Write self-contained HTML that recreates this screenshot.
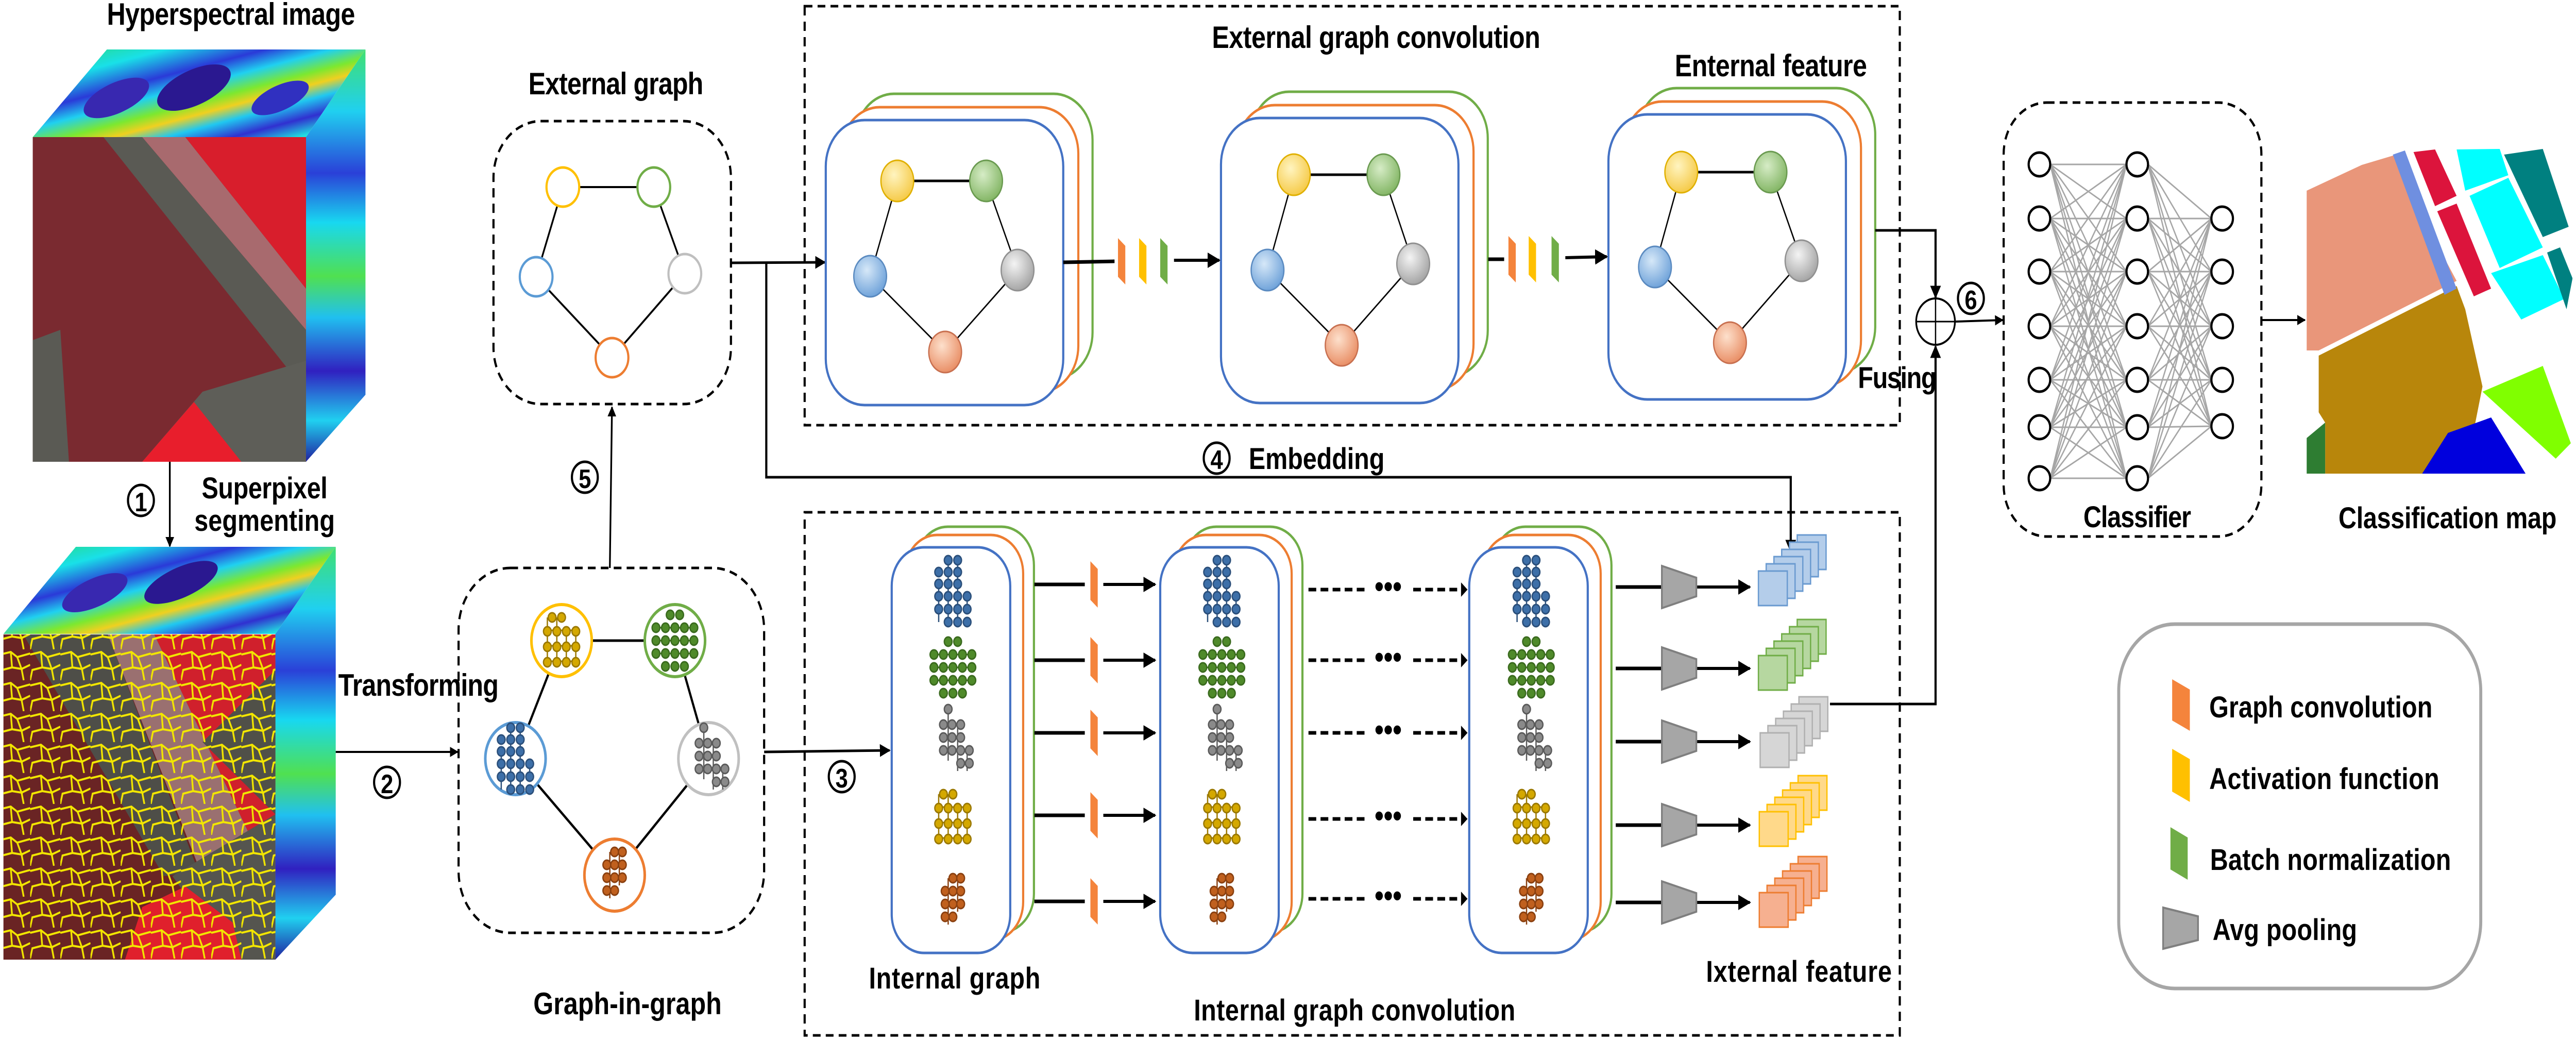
<!DOCTYPE html>
<html><head><meta charset="utf-8"><style>
html,body{margin:0;padding:0;background:#fff;overflow:hidden;width:100vw;height:100vh}
svg{display:block;position:absolute;left:0;top:0;width:100vw;height:100vh}
text{font-family:"Liberation Sans",Arial,sans-serif;font-weight:bold;fill:#000}
</style></head><body>
<svg xmlns="http://www.w3.org/2000/svg" xmlns:xlink="http://www.w3.org/1999/xlink" viewBox="0 0 5977 2016" preserveAspectRatio="none">
<defs>
<marker id="ar" viewBox="0 0 10 10" refX="9" refY="5" markerWidth="5" markerHeight="5" orient="auto" markerUnits="strokeWidth"><path d="M0,0 L10,5 L0,10 z" fill="#000"/></marker>
<clipPath id="mapclip"><rect x="5352" y="289" width="617" height="630"/></clipPath>
<linearGradient id="spec" x1="0" y1="0" x2="1" y2="1">
<stop offset="0" stop-color="#2ad86a"/><stop offset="0.2" stop-color="#19e0e8"/><stop offset="0.35" stop-color="#2a3ad8"/><stop offset="0.45" stop-color="#20d0f0"/><stop offset="0.55" stop-color="#7ce830"/><stop offset="0.62" stop-color="#f0d020"/><stop offset="0.7" stop-color="#20c8f0"/><stop offset="0.8" stop-color="#3030d0"/><stop offset="0.9" stop-color="#20e0e0"/><stop offset="1" stop-color="#40e060"/>
</linearGradient>
<linearGradient id="specR" x1="0" y1="0" x2="0" y2="1">
<stop offset="0" stop-color="#40e070"/><stop offset="0.15" stop-color="#20d0f0"/><stop offset="0.3" stop-color="#2a40d8"/><stop offset="0.42" stop-color="#18d8f0"/><stop offset="0.55" stop-color="#50e050"/><stop offset="0.65" stop-color="#20c0f0"/><stop offset="0.78" stop-color="#3020c0"/><stop offset="0.9" stop-color="#20d0f0"/><stop offset="1" stop-color="#2020a0"/>
</linearGradient>
<pattern id="mesh" width="70" height="60" patternUnits="userSpaceOnUse">
<path d="M0 10 L25 5 L40 15 L70 8 M25 5 L28 35 L5 40 L0 60 M28 35 L50 38 L40 15 M50 38 L55 60 M50 38 L70 30" stroke="#f2e600" stroke-width="4" fill="none"/>
</pattern>
<radialGradient id="gy" cx="0.4" cy="0.35" r="0.7"><stop offset="0" stop-color="#fff4c0"/><stop offset="1" stop-color="#f5c842"/></radialGradient>
<radialGradient id="gg" cx="0.4" cy="0.35" r="0.7"><stop offset="0" stop-color="#d6ecc6"/><stop offset="1" stop-color="#7fb360"/></radialGradient>
<radialGradient id="gb" cx="0.4" cy="0.35" r="0.7"><stop offset="0" stop-color="#d6e8f8"/><stop offset="1" stop-color="#6a9fd8"/></radialGradient>
<radialGradient id="gr" cx="0.4" cy="0.35" r="0.7"><stop offset="0" stop-color="#f4f4f4"/><stop offset="1" stop-color="#a0a0a0"/></radialGradient>
<radialGradient id="go" cx="0.4" cy="0.35" r="0.7"><stop offset="0" stop-color="#fde0cc"/><stop offset="1" stop-color="#e88a60"/></radialGradient>
<g id="cb" fill="#3d6fa8" stroke="#2b4f7a" stroke-width="3">
<path d="M-11 -60V60M11 -60V60M-33 -15V60M33 0V40" fill="none"/>
<circle cx="-11" cy="-60" r="9"/><circle cx="11" cy="-60" r="9"/>
<circle cx="-33" cy="-37" r="9"/><circle cx="-11" cy="-37" r="9"/><circle cx="11" cy="-37" r="9"/>
<circle cx="-33" cy="-14" r="9"/><circle cx="-11" cy="-14" r="9"/><circle cx="11" cy="-14" r="9"/>
<circle cx="-33" cy="10" r="9"/><circle cx="-11" cy="10" r="9"/><circle cx="11" cy="10" r="9"/><circle cx="33" cy="10" r="9"/>
<circle cx="-33" cy="35" r="9"/><circle cx="-11" cy="35" r="9"/><circle cx="11" cy="35" r="9"/><circle cx="33" cy="35" r="9"/>
<circle cx="-11" cy="60" r="9"/><circle cx="11" cy="60" r="9"/><circle cx="33" cy="60" r="9"/>
</g>
<g id="cg" fill="#4f8a2a" stroke="#3a6a1e" stroke-width="3">
<path d="M-44 -25H44M-44 0H44M-44 25H44" fill="none"/>
<circle cx="-11" cy="-50" r="9"/><circle cx="11" cy="-50" r="9"/>
<circle cx="-44" cy="-25" r="9"/><circle cx="-22" cy="-25" r="9"/><circle cx="0" cy="-25" r="9"/><circle cx="22" cy="-25" r="9"/><circle cx="44" cy="-25" r="9"/>
<circle cx="-44" cy="0" r="9"/><circle cx="-22" cy="0" r="9"/><circle cx="0" cy="0" r="9"/><circle cx="22" cy="0" r="9"/><circle cx="44" cy="0" r="9"/>
<circle cx="-44" cy="25" r="9"/><circle cx="-22" cy="25" r="9"/><circle cx="0" cy="25" r="9"/><circle cx="22" cy="25" r="9"/><circle cx="44" cy="25" r="9"/>
<circle cx="-22" cy="50" r="9"/><circle cx="0" cy="50" r="9"/><circle cx="22" cy="50" r="9"/>
</g>
<g id="cr" fill="#8a8a8a" stroke="#5a5a5a" stroke-width="3">
<path d="M-11 -60V40M11 -30V60M33 20V60" fill="none"/>
<circle cx="-11" cy="-60" r="9"/>
<circle cx="-22" cy="-30" r="9"/><circle cx="-2" cy="-30" r="9"/><circle cx="18" cy="-30" r="9"/>
<circle cx="-22" cy="-5" r="9"/><circle cx="-2" cy="-5" r="9"/><circle cx="18" cy="-5" r="9"/>
<circle cx="-22" cy="20" r="9"/><circle cx="-2" cy="20" r="9"/><circle cx="18" cy="20" r="9"/><circle cx="38" cy="20" r="9"/>
<circle cx="18" cy="45" r="9"/><circle cx="38" cy="45" r="9"/>
</g>
<g id="cy" fill="#d4a800" stroke="#9a7800" stroke-width="3">
<path d="M-33 -45V45M-11 -45V45M11 -20V45M33 -20V45M-33 -20H33M-33 10H33M-33 40H33" fill="none"/>
<circle cx="-22" cy="-45" r="9"/><circle cx="0" cy="-45" r="9"/>
<circle cx="-33" cy="-18" r="9"/><circle cx="-11" cy="-18" r="9"/><circle cx="11" cy="-18" r="9"/><circle cx="33" cy="-18" r="9"/>
<circle cx="-33" cy="12" r="9"/><circle cx="-11" cy="12" r="9"/><circle cx="11" cy="12" r="9"/><circle cx="33" cy="12" r="9"/>
<circle cx="-33" cy="42" r="9"/><circle cx="-11" cy="42" r="9"/><circle cx="11" cy="42" r="9"/><circle cx="33" cy="42" r="9"/>
</g>
<g id="co" fill="#c0601e" stroke="#8a4010" stroke-width="3">
<path d="M-11 -45V45M11 -45V20" fill="none"/>
<circle cx="0" cy="-45" r="9"/><circle cx="18" cy="-45" r="9"/>
<circle cx="-18" cy="-20" r="9"/><circle cx="0" cy="-20" r="9"/><circle cx="18" cy="-20" r="9"/>
<circle cx="-18" cy="5" r="9"/><circle cx="0" cy="5" r="9"/><circle cx="18" cy="5" r="9"/>
<circle cx="-18" cy="30" r="9"/><circle cx="0" cy="30" r="9"/>
</g>
<path id="pc" d="M0 -45 L17 -30 L17 45 L0 30 Z"/>
<path id="ap" d="M0 -41 L80 -18 L80 18 L0 41 Z" fill="#a6a6a6" stroke="#7f7f7f" stroke-width="4"/>
</defs>

<!-- ===== top cube ===== -->
<polygon points="76,266 248,96 848,96 710,266" fill="url(#spec)"/>
<polygon points="710,266 848,96 848,766 710,896" fill="url(#specR)"/>
<ellipse cx="450" cy="170" rx="90" ry="35" fill="#2a1890" transform="rotate(-20 450 170)"/>
<ellipse cx="270" cy="190" rx="80" ry="30" fill="#3828b0" transform="rotate(-20 270 190)"/>
<ellipse cx="650" cy="190" rx="70" ry="25" fill="#3030c0" transform="rotate(-20 650 190)"/>
<rect x="76" y="266" width="634" height="630" fill="#7a2a30"/>
<polygon points="240,266 330,266 710,640 710,760 " fill="#5a5a54"/>
<polygon points="330,266 430,266 710,560 710,640" fill="#a86a6e"/>
<polygon points="430,266 710,266 710,560" fill="#d81e2c"/>
<polygon points="330,896 470,760 710,700 710,896" fill="#5e5e58"/>
<polygon points="330,896 450,780 560,896" fill="#e81e2c"/>
<polygon points="76,660 140,640 160,896 76,896" fill="#5a5a54"/>

<!-- arrow 1 -->
<line x1="394" y1="896" x2="394" y2="1060" stroke="#000" stroke-width="4" marker-end="url(#ar)"/>
<circle cx="327" cy="971" r="30" fill="none" stroke="#000" stroke-width="5"/>
<text x="327" y="992" font-size="52" text-anchor="middle">1</text>
<text x="614" y="967" font-size="58" text-anchor="middle" textLength="292">Superpixel</text>
<text x="614" y="1030" font-size="58" text-anchor="middle" textLength="326">segmenting</text>
<text x="536" y="48" font-size="60" text-anchor="middle" textLength="576">Hyperspectral image</text>

<!-- ===== bottom cube ===== -->
<polygon points="8,1230 176,1061 779,1061 639,1230" fill="url(#spec)"/>
<polygon points="639,1230 779,1061 779,1736 639,1862" fill="url(#specR)"/>
<ellipse cx="420" cy="1130" rx="90" ry="30" fill="#2a1890" transform="rotate(-20 420 1130)"/>
<ellipse cx="220" cy="1150" rx="80" ry="28" fill="#3828b0" transform="rotate(-20 220 1150)"/>
<rect x="8" y="1231" width="631" height="631" fill="#6a2424"/>
<polygon points="54,1231 250,1231 460,1690 380,1700" fill="#4e4e48"/>
<polygon points="250,1231 358,1231 585,1630 460,1680" fill="#9a7070"/>
<polygon points="358,1231 639,1231 639,1580 585,1630" fill="#d0202c"/>
<polygon points="470,1440 639,1300 639,1580" fill="#505048"/>
<polygon points="400,1700 639,1580 639,1862 540,1862" fill="#55554f"/>
<polygon points="290,1862 330,1760 430,1720 540,1790 560,1862" fill="#e0202c"/>
<rect x="8" y="1231" width="631" height="631" fill="url(#mesh)"/>

<text x="971" y="1350" font-size="60" text-anchor="middle" textLength="372">Transforming</text>
<line x1="779" y1="1459" x2="1062" y2="1459" stroke="#000" stroke-width="4" marker-end="url(#ar)"/>
<circle cx="898" cy="1518" r="30" fill="none" stroke="#000" stroke-width="5"/>
<text x="898" y="1539" font-size="52" text-anchor="middle">2</text>

<!-- graph-in-graph -->
<rect x="1064" y="1102" width="709" height="708" rx="120" fill="none" stroke="#000" stroke-width="5" stroke-dasharray="18 12"/>
<g stroke="#000" stroke-width="5">
<line x1="1303" y1="1243" x2="1566" y2="1243"/><line x1="1303" y1="1243" x2="1196" y2="1472"/><line x1="1566" y1="1243" x2="1644" y2="1472"/><line x1="1196" y1="1472" x2="1426" y2="1698"/><line x1="1644" y1="1472" x2="1426" y2="1698"/>
</g>
<g fill="#fff" stroke-width="6">
<circle cx="1303" cy="1243" r="70" stroke="#ffc000"/><circle cx="1566" cy="1243" r="70" stroke="#70ad47"/><circle cx="1196" cy="1472" r="70" stroke="#5b9bd5"/><circle cx="1644" cy="1472" r="70" stroke="#c0c0c0"/><circle cx="1426" cy="1698" r="70" stroke="#ed7d31"/>
</g>
<use xlink:href="#cy" x="1303" y="1243"/>
<use xlink:href="#cg" x="1566" y="1243"/>
<use xlink:href="#cb" x="1196" y="1472"/>
<use xlink:href="#cr" x="1644" y="1472"/>
<use xlink:href="#co" x="1426" y="1698"/>
<text x="1456" y="1968" font-size="60" text-anchor="middle" textLength="437">Graph-in-graph</text>

<!-- arrow 5 -->
<line x1="1415" y1="1102" x2="1420" y2="790" stroke="#000" stroke-width="4" marker-end="url(#ar)"/>
<circle cx="1357" cy="926" r="30" fill="none" stroke="#000" stroke-width="5"/>
<text x="1357" y="947" font-size="52" text-anchor="middle">5</text>

<!-- external graph -->
<text x="1429" y="183" font-size="60" text-anchor="middle" textLength="406">External graph</text>
<rect x="1145" y="235" width="551" height="549" rx="110" fill="none" stroke="#000" stroke-width="5" stroke-dasharray="18 12"/>
<g stroke="#000" stroke-width="4">
<line x1="1306" y1="363" x2="1517" y2="363"/><line x1="1306" y1="363" x2="1244" y2="537"/><line x1="1517" y1="363" x2="1589" y2="531"/><line x1="1244" y1="537" x2="1420" y2="694"/><line x1="1589" y1="531" x2="1420" y2="694"/>
</g>
<g fill="#fff" stroke-width="5">
<circle cx="1306" cy="363" r="38" stroke="#ffc000"/><circle cx="1517" cy="363" r="38" stroke="#70ad47"/><circle cx="1244" cy="537" r="38" stroke="#5b9bd5"/><circle cx="1589" cy="531" r="38" stroke="#bfbfbf"/><circle cx="1420" cy="694" r="38" stroke="#ed7d31"/>
</g>

<!-- connectors from external graph -->
<line x1="1696" y1="510" x2="1914" y2="509" stroke="#000" stroke-width="5" marker-end="url(#ar)"/>
<polyline points="1778,510 1778,926 4155,926 4155,1070" fill="none" stroke="#000" stroke-width="5" marker-end="url(#ar)"/>
<circle cx="2823" cy="889" r="30" fill="none" stroke="#000" stroke-width="5"/>
<text x="2823" y="910" font-size="52" text-anchor="middle">4</text>
<text x="3055" y="910" font-size="58" text-anchor="middle" textLength="315">Embedding</text>

<!-- external graph convolution box -->
<rect x="1867" y="12" width="2541" height="813" fill="none" stroke="#000" stroke-width="5" stroke-dasharray="18 12"/>
<text x="3193" y="93" font-size="60" text-anchor="middle" textLength="762">External graph convolution</text>
<text x="4109" y="148" font-size="60" text-anchor="middle" textLength="446">Enternal feature</text>

<!-- stacks -->
<g fill="#fff" stroke-width="5">
<rect x="1984" y="182" width="551" height="553" rx="90" stroke="#70ad47"/>
<rect x="1951" y="208" width="551" height="553" rx="90" stroke="#ed7d31"/>
<rect x="1916" y="233" width="551" height="553" rx="90" stroke="#4472c4"/>
<rect x="2901" y="178" width="551" height="553" rx="90" stroke="#70ad47"/>
<rect x="2868" y="204" width="551" height="553" rx="90" stroke="#ed7d31"/>
<rect x="2833" y="229" width="551" height="553" rx="90" stroke="#4472c4"/>
<rect x="3800" y="171" width="551" height="553" rx="90" stroke="#70ad47"/>
<rect x="3767" y="197" width="551" height="553" rx="90" stroke="#ed7d31"/>
<rect x="3732" y="222" width="551" height="553" rx="90" stroke="#4472c4"/>
</g>
<g stroke="#000" stroke-width="3">
<line x1="2082" y1="351" x2="2288" y2="351" stroke-width="5"/><line x1="2082" y1="351" x2="2019" y2="536"/><line x1="2288" y1="351" x2="2361" y2="524"/><line x1="2019" y1="536" x2="2193" y2="683"/><line x1="2361" y1="524" x2="2193" y2="683"/>
<line x1="3002" y1="339" x2="3210" y2="339" stroke-width="5"/><line x1="3002" y1="339" x2="2941" y2="524"/><line x1="3210" y1="339" x2="3279" y2="512"/><line x1="2941" y1="524" x2="3113" y2="670"/><line x1="3279" y1="512" x2="3113" y2="670"/>
<line x1="3901" y1="334" x2="4108" y2="334" stroke-width="5"/><line x1="3901" y1="334" x2="3840" y2="518"/><line x1="4108" y1="334" x2="4180" y2="506"/><line x1="3840" y1="518" x2="4014" y2="665"/><line x1="4180" y1="506" x2="4014" y2="665"/>
</g>
<g stroke-width="3">
<ellipse cx="2082" cy="351" rx="38" ry="40" fill="url(#gy)" stroke="#e0b000"/><ellipse cx="2288" cy="351" rx="38" ry="40" fill="url(#gg)" stroke="#6a9a50"/><ellipse cx="2019" cy="536" rx="38" ry="40" fill="url(#gb)" stroke="#5a8ac0"/><ellipse cx="2361" cy="524" rx="38" ry="40" fill="url(#gr)" stroke="#909090"/><ellipse cx="2193" cy="683" rx="38" ry="40" fill="url(#go)" stroke="#c87050"/>
<ellipse cx="3002" cy="339" rx="38" ry="40" fill="url(#gy)" stroke="#e0b000"/><ellipse cx="3210" cy="339" rx="38" ry="40" fill="url(#gg)" stroke="#6a9a50"/><ellipse cx="2941" cy="524" rx="38" ry="40" fill="url(#gb)" stroke="#5a8ac0"/><ellipse cx="3279" cy="512" rx="38" ry="40" fill="url(#gr)" stroke="#909090"/><ellipse cx="3113" cy="670" rx="38" ry="40" fill="url(#go)" stroke="#c87050"/>
<ellipse cx="3901" cy="334" rx="38" ry="40" fill="url(#gy)" stroke="#e0b000"/><ellipse cx="4108" cy="334" rx="38" ry="40" fill="url(#gg)" stroke="#6a9a50"/><ellipse cx="3840" cy="518" rx="38" ry="40" fill="url(#gb)" stroke="#5a8ac0"/><ellipse cx="4180" cy="506" rx="38" ry="40" fill="url(#gr)" stroke="#909090"/><ellipse cx="4014" cy="665" rx="38" ry="40" fill="url(#go)" stroke="#c87050"/>
</g>
<!-- conv blocks between ext stacks -->
<line x1="2467" y1="509" x2="2586" y2="507" stroke="#000" stroke-width="7"/>
<use xlink:href="#pc" x="2594" y="507" fill="#f4843c"/>
<use xlink:href="#pc" x="2643" y="507" fill="#ffc000"/>
<use xlink:href="#pc" x="2692" y="507" fill="#70ad47"/>
<line x1="2724" y1="505" x2="2829" y2="505" stroke="#000" stroke-width="6" marker-end="url(#ar)"/>
<line x1="3453" y1="503" x2="3490" y2="503" stroke="#000" stroke-width="7"/>
<use xlink:href="#pc" x="3500" y="503" fill="#f4843c"/>
<use xlink:href="#pc" x="3547" y="503" fill="#ffc000"/>
<use xlink:href="#pc" x="3600" y="503" fill="#70ad47"/>
<line x1="3632" y1="500" x2="3728" y2="498" stroke="#000" stroke-width="6" marker-end="url(#ar)"/>

<!-- fusing -->
<polyline points="4351,447 4491,447 4491,577" fill="none" stroke="#000" stroke-width="5" marker-end="url(#ar)"/>
<polyline points="4246,1366 4491,1366 4491,672" fill="none" stroke="#000" stroke-width="5" marker-end="url(#ar)"/>
<circle cx="4491" cy="624" r="45" fill="#fff" stroke="#000" stroke-width="4"/>
<line x1="4446" y1="624" x2="4536" y2="624" stroke="#000" stroke-width="3"/><line x1="4491" y1="579" x2="4491" y2="669" stroke="#000" stroke-width="3"/>
<text x="4402" y="753" font-size="58" text-anchor="middle" textLength="182">Fusing</text>
<circle cx="4573" cy="579" r="30" fill="none" stroke="#000" stroke-width="5"/>
<text x="4573" y="600" font-size="52" text-anchor="middle">6</text>
<line x1="4536" y1="624" x2="4647" y2="621" stroke="#000" stroke-width="4" marker-end="url(#ar)"/>

<!-- classifier -->
<rect x="4649" y="199" width="598" height="842" rx="100" fill="none" stroke="#000" stroke-width="5" stroke-dasharray="18 12"/>
<path stroke="#a6a6a6" stroke-width="3" fill="none" d="
M4757 319L4934 319M4757 319L4934 424M4757 319L4934 527M4757 319L4934 633M4757 319L4934 737M4757 319L4934 829M4757 319L4934 928
M4757 424L4934 319M4757 424L4934 424M4757 424L4934 527M4757 424L4934 633M4757 424L4934 737M4757 424L4934 829M4757 424L4934 928
M4757 527L4934 319M4757 527L4934 424M4757 527L4934 527M4757 527L4934 633M4757 527L4934 737M4757 527L4934 829M4757 527L4934 928
M4757 633L4934 319M4757 633L4934 424M4757 633L4934 527M4757 633L4934 633M4757 633L4934 737M4757 633L4934 829M4757 633L4934 928
M4757 737L4934 319M4757 737L4934 424M4757 737L4934 527M4757 737L4934 633M4757 737L4934 737M4757 737L4934 829M4757 737L4934 928
M4757 829L4934 319M4757 829L4934 424M4757 829L4934 527M4757 829L4934 633M4757 829L4934 737M4757 829L4934 829M4757 829L4934 928
M4757 928L4934 319M4757 928L4934 424M4757 928L4934 527M4757 928L4934 633M4757 928L4934 737M4757 928L4934 829M4757 928L4934 928
M4984 319L5131 424M4984 319L5131 527M4984 319L5131 633M4984 319L5131 737M4984 319L5131 827
M4984 424L5131 424M4984 424L5131 527M4984 424L5131 633M4984 424L5131 737M4984 424L5131 827
M4984 527L5131 424M4984 527L5131 527M4984 527L5131 633M4984 527L5131 737M4984 527L5131 827
M4984 633L5131 424M4984 633L5131 527M4984 633L5131 633M4984 633L5131 737M4984 633L5131 827
M4984 737L5131 424M4984 737L5131 527M4984 737L5131 633M4984 737L5131 737M4984 737L5131 827
M4984 829L5131 424M4984 829L5131 527M4984 829L5131 633M4984 829L5131 737M4984 829L5131 827
M4984 928L5131 424M4984 928L5131 527M4984 928L5131 633M4984 928L5131 737M4984 928L5131 827"/>
<g fill="#fff" stroke="#000" stroke-width="5">
<ellipse cx="4732" cy="319" rx="25" ry="23"/><ellipse cx="4732" cy="424" rx="25" ry="23"/><ellipse cx="4732" cy="527" rx="25" ry="23"/><ellipse cx="4732" cy="633" rx="25" ry="23"/><ellipse cx="4732" cy="737" rx="25" ry="23"/><ellipse cx="4732" cy="829" rx="25" ry="23"/><ellipse cx="4732" cy="928" rx="25" ry="23"/>
<ellipse cx="4959" cy="319" rx="25" ry="23"/><ellipse cx="4959" cy="424" rx="25" ry="23"/><ellipse cx="4959" cy="527" rx="25" ry="23"/><ellipse cx="4959" cy="633" rx="25" ry="23"/><ellipse cx="4959" cy="737" rx="25" ry="23"/><ellipse cx="4959" cy="829" rx="25" ry="23"/><ellipse cx="4959" cy="928" rx="25" ry="23"/>
<ellipse cx="5156" cy="424" rx="25" ry="23"/><ellipse cx="5156" cy="527" rx="25" ry="23"/><ellipse cx="5156" cy="633" rx="25" ry="23"/><ellipse cx="5156" cy="737" rx="25" ry="23"/><ellipse cx="5156" cy="827" rx="25" ry="23"/>
</g>
<text x="4959" y="1023" font-size="58" text-anchor="middle" textLength="250">Classifier</text>
<line x1="5247" y1="621" x2="5348" y2="621" stroke="#000" stroke-width="4" marker-end="url(#ar)"/>

<!-- classification map -->
<g clip-path="url(#mapclip)">
<polygon points="5352,370 5480,320 5560,300 5590,340 5620,420 5700,545 5380,680 5352,680" fill="#e9967a"/>
<polygon points="5380,690 5700,555 5720,600 5760,750 5720,919 5395,919 5395,820 5380,800" fill="#b8860b"/>
<polygon points="5352,850 5395,820 5395,919 5352,919" fill="#2e7d32"/>
<polygon points="5552,300 5580,292 5700,560 5672,572" fill="#6f8fe0"/>
<polygon points="5600,295 5650,290 5700,380 5650,400" fill="#dc143c"/>
<polygon points="5655,410 5700,395 5780,560 5740,575" fill="#dc143c"/>
<polygon points="5700,290 5800,289 5820,340 5720,370" fill="#00ffff"/>
<polygon points="5730,380 5820,345 5900,480 5800,520" fill="#00ffff"/>
<polygon points="5780,530 5900,495 5950,580 5850,620" fill="#00ffff"/>
<polygon points="5810,300 5900,289 5960,440 5900,460" fill="#008080"/>
<polygon points="5910,490 5940,480 5969,540 5955,600" fill="#008080"/>
<polygon points="5760,760 5900,710 5965,860 5930,890" fill="#80ff00"/>
<polygon points="5620,919 5680,840 5780,810 5860,919" fill="#0000dd"/>
</g>
<text x="5679" y="1025" font-size="58" text-anchor="middle" textLength="506">Classification map</text>

<!-- legend -->
<rect x="4916" y="1211" width="840" height="707" rx="130" fill="#fff" stroke="#a6a6a6" stroke-width="7"/>
<polygon points="5040,1318 5081,1338 5081,1418 5040,1398" fill="#f4843c"/>
<polygon points="5040,1453 5081,1473 5081,1556 5040,1536" fill="#ffc000"/>
<polygon points="5036,1605 5076,1625 5076,1707 5036,1687" fill="#70ad47"/>
<polygon points="5019,1761 5100,1778 5100,1824 5019,1841" fill="#a6a6a6" stroke="#7f7f7f" stroke-width="4"/>
<text x="5126" y="1392" font-size="58" textLength="518">Graph convolution</text>
<text x="5126" y="1531" font-size="58" textLength="534">Activation function</text>
<text x="5128" y="1688" font-size="58" textLength="559">Batch normalization</text>
<text x="5134" y="1824" font-size="58" textLength="335">Avg pooling</text>

<!-- internal graph convolution box -->
<rect x="1867" y="994" width="2541" height="1015" fill="none" stroke="#000" stroke-width="5" stroke-dasharray="18 12"/>
<line x1="1773" y1="1459" x2="2064" y2="1456" stroke="#000" stroke-width="5" marker-end="url(#ar)"/>
<circle cx="1953" cy="1507" r="30" fill="none" stroke="#000" stroke-width="5"/>
<text x="1953" y="1528" font-size="52" text-anchor="middle">3</text>

<g fill="#fff" stroke-width="5">
<rect x="2124" y="1022" width="275" height="787" rx="75" stroke="#70ad47"/>
<rect x="2099" y="1038" width="275" height="787" rx="75" stroke="#ed7d31"/>
<rect x="2069" y="1062" width="275" height="787" rx="75" stroke="#4472c4"/>
<rect x="2747" y="1022" width="275" height="787" rx="75" stroke="#70ad47"/>
<rect x="2722" y="1038" width="275" height="787" rx="75" stroke="#ed7d31"/>
<rect x="2692" y="1062" width="275" height="787" rx="75" stroke="#4472c4"/>
<rect x="3464" y="1022" width="275" height="787" rx="75" stroke="#70ad47"/>
<rect x="3439" y="1038" width="275" height="787" rx="75" stroke="#ed7d31"/>
<rect x="3409" y="1062" width="275" height="787" rx="75" stroke="#4472c4"/>
</g>
<use xlink:href="#cb" x="2211" y="1147"/><use xlink:href="#cg" x="2211" y="1295"/><use xlink:href="#cr" x="2211" y="1436"/><use xlink:href="#cy" x="2211" y="1586"/><use xlink:href="#co" x="2211" y="1749"/>
<use xlink:href="#cb" x="2835" y="1147"/><use xlink:href="#cg" x="2835" y="1295"/><use xlink:href="#cr" x="2835" y="1436"/><use xlink:href="#cy" x="2835" y="1586"/><use xlink:href="#co" x="2835" y="1749"/>
<use xlink:href="#cb" x="3553" y="1147"/><use xlink:href="#cg" x="3553" y="1295"/><use xlink:href="#cr" x="3553" y="1436"/><use xlink:href="#cy" x="3553" y="1586"/><use xlink:href="#co" x="3553" y="1749"/>

<!-- A -> B -->
<g stroke="#000" stroke-width="7">
<line x1="2400" y1="1134" x2="2517" y2="1134"/><line x1="2560" y1="1134" x2="2680" y2="1134" marker-end="url(#ar)" stroke-width="6"/>
<line x1="2400" y1="1281" x2="2517" y2="1281"/><line x1="2560" y1="1281" x2="2680" y2="1281" marker-end="url(#ar)" stroke-width="6"/>
<line x1="2400" y1="1422" x2="2517" y2="1422"/><line x1="2560" y1="1422" x2="2680" y2="1422" marker-end="url(#ar)" stroke-width="6"/>
<line x1="2400" y1="1582" x2="2517" y2="1582"/><line x1="2560" y1="1582" x2="2680" y2="1582" marker-end="url(#ar)" stroke-width="6"/>
<line x1="2400" y1="1749" x2="2517" y2="1749"/><line x1="2560" y1="1749" x2="2680" y2="1749" marker-end="url(#ar)" stroke-width="6"/>
</g>
<g fill="#f4843c">
<use xlink:href="#pc" x="2530" y="1134"/><use xlink:href="#pc" x="2530" y="1281"/><use xlink:href="#pc" x="2530" y="1422"/><use xlink:href="#pc" x="2530" y="1582"/><use xlink:href="#pc" x="2530" y="1749"/>
</g>
<!-- B -> C dashed -->
<g stroke="#000" stroke-width="7" stroke-dasharray="18 10" fill="none">
<path d="M3036 1144H3168M3279 1144H3392"/><path d="M3036 1281H3168M3279 1281H3392"/><path d="M3036 1422H3168M3279 1422H3392"/><path d="M3036 1589H3168M3279 1589H3392"/><path d="M3036 1744H3168M3279 1744H3392"/>
</g>
<g fill="#000">
<polygon points="3390,1130 3405,1144 3390,1158"/><polygon points="3390,1267 3405,1281 3390,1295"/><polygon points="3390,1408 3405,1422 3390,1436"/><polygon points="3390,1575 3405,1589 3390,1603"/><polygon points="3390,1730 3405,1744 3390,1758"/>
</g>
<g font-size="60" text-anchor="middle">
<text x="3221" y="1158">•••</text><text x="3221" y="1295">•••</text><text x="3221" y="1436">•••</text><text x="3221" y="1603">•••</text><text x="3221" y="1758">•••</text>
</g>
<!-- C -> pooling -> features -->
<g stroke="#000" stroke-width="7">
<line x1="3749" y1="1139" x2="3856" y2="1139"/><line x1="3936" y1="1139" x2="4060" y2="1139" stroke-width="6" marker-end="url(#ar)"/>
<line x1="3749" y1="1297" x2="3856" y2="1297"/><line x1="3936" y1="1297" x2="4060" y2="1297" stroke-width="6" marker-end="url(#ar)"/>
<line x1="3749" y1="1439" x2="3856" y2="1439"/><line x1="3936" y1="1439" x2="4060" y2="1439" stroke-width="6" marker-end="url(#ar)"/>
<line x1="3749" y1="1601" x2="3856" y2="1601"/><line x1="3936" y1="1601" x2="4060" y2="1601" stroke-width="6" marker-end="url(#ar)"/>
<line x1="3749" y1="1751" x2="3856" y2="1751"/><line x1="3936" y1="1751" x2="4060" y2="1751" stroke-width="6" marker-end="url(#ar)"/>
</g>
<use xlink:href="#ap" x="3856" y="1139"/><use xlink:href="#ap" x="3856" y="1297"/><use xlink:href="#ap" x="3856" y="1439"/><use xlink:href="#ap" x="3856" y="1601"/><use xlink:href="#ap" x="3856" y="1751"/>

<g stroke-width="3">
<g fill="#b4cdea" stroke="#6a9ad0">
<rect x="4170" y="1038" width="67" height="67"/><rect x="4152" y="1052" width="67" height="67"/><rect x="4134" y="1066" width="67" height="67"/><rect x="4116" y="1080" width="67" height="67"/><rect x="4098" y="1094" width="67" height="67"/><rect x="4080" y="1108" width="67" height="67"/>
</g>
<g fill="#b6d7a0" stroke="#70ad47">
<rect x="4170" y="1202" width="67" height="67"/><rect x="4152" y="1216" width="67" height="67"/><rect x="4134" y="1230" width="67" height="67"/><rect x="4116" y="1244" width="67" height="67"/><rect x="4098" y="1258" width="67" height="67"/><rect x="4080" y="1272" width="67" height="67"/>
</g>
<g fill="#d6d6d6" stroke="#b0b0b0">
<rect x="4174" y="1352" width="67" height="67"/><rect x="4156" y="1366" width="67" height="67"/><rect x="4138" y="1380" width="67" height="67"/><rect x="4120" y="1394" width="67" height="67"/><rect x="4102" y="1408" width="67" height="67"/><rect x="4084" y="1422" width="67" height="67"/>
</g>
<g fill="#ffd98a" stroke="#ffc000">
<rect x="4172" y="1505" width="67" height="67"/><rect x="4154" y="1519" width="67" height="67"/><rect x="4136" y="1533" width="67" height="67"/><rect x="4118" y="1547" width="67" height="67"/><rect x="4100" y="1561" width="67" height="67"/><rect x="4082" y="1575" width="67" height="67"/>
</g>
<g fill="#f6b090" stroke="#ed7d31">
<rect x="4172" y="1662" width="67" height="67"/><rect x="4154" y="1676" width="67" height="67"/><rect x="4136" y="1690" width="67" height="67"/><rect x="4118" y="1704" width="67" height="67"/><rect x="4100" y="1718" width="67" height="67"/><rect x="4082" y="1732" width="67" height="67"/>
</g>
</g>

<text x="2215" y="1918" font-size="58" text-anchor="middle" textLength="398">Internal graph</text>
<text x="3143" y="1980" font-size="58" text-anchor="middle" textLength="746">Internal graph convolution</text>
<text x="4174" y="1905" font-size="58" text-anchor="middle" textLength="431">Ixternal feature</text>
</svg>
</body></html>
